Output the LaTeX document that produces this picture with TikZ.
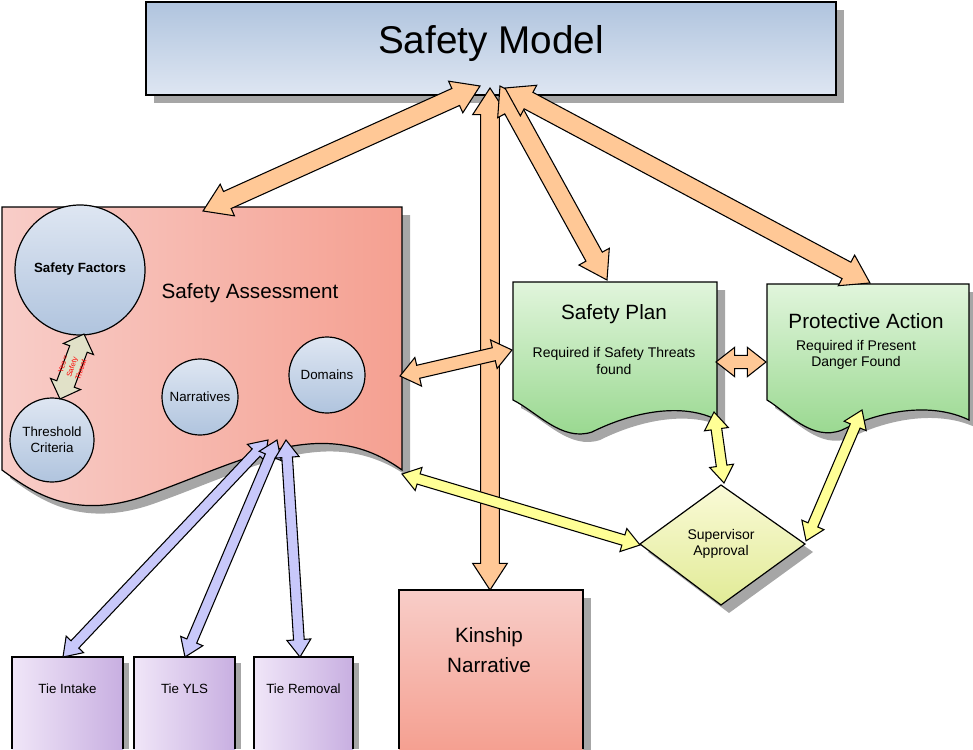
\documentclass[tikz,border=0pt]{standalone}
\usepackage{fontspec}
\setmainfont{Liberation Sans}
\usetikzlibrary{calc}
\definecolor{blueF}{RGB}{176,196,222}
\definecolor{blueL}{RGB}{222,230,242}
\definecolor{salm}{RGB}{245,160,145}
\definecolor{salmL}{RGB}{248,205,200}
\definecolor{grn}{RGB}{150,215,140}
\definecolor{grnL}{RGB}{225,245,220}
\definecolor{purp}{RGB}{200,175,225}
\definecolor{purpL}{RGB}{240,230,248}
\definecolor{orgA}{RGB}{255,200,150}
\definecolor{yelA}{RGB}{255,255,150}
\definecolor{lavA}{RGB}{200,200,250}
\definecolor{begA}{RGB}{225,225,200}
\definecolor{dia}{RGB}{225,235,150}
\definecolor{diaL}{RGB}{250,250,215}
\newcommand\barrow[6]{%
 \pgfpointdiff{\pgfpointanchor{#5}{center}}{\pgfpointanchor{#6}{center}}%
 \pgfgetlastxy{\dx}{\dy}%
 \pgfmathsetmacro\ang{atan2(\dy,\dx)}%
 \pgfmathsetmacro\len{veclen(\dx,\dy)}%
 \pgfmathsetmacro\lh{\len-#4}%
 \draw[fill=#1,line width=0.8pt,line join=miter,shift={(#5)},rotate=\ang]
 (0pt,0pt) -- (#4pt,#3pt) -- (#4pt,#2pt) -- (\lh pt,#2pt) -- (\lh pt,#3pt) -- (\len pt,0pt)
 -- (\lh pt,-#3pt) -- (\lh pt,-#2pt) -- (#4pt,-#2pt) -- (#4pt,-#3pt) -- cycle;}
\tikzset{shape line/.style={draw=black,line width=0.9pt},
 shadowed/.style={fill=black!35},
 lbl/.style={font=\fontsize{15.5}{18}\selectfont,align=center},
 small/.style={font=\fontsize{10.5}{12.5}\selectfont,align=center},
 circ/.style={shape line,top color=blueL,bottom color=blueF}}
\begin{document}
\begin{tikzpicture}[x=0.75pt,y=-0.75pt]
\useasboundingbox (0,0) rectangle (973,749);
% Safety Model
\fill[shadowed] (154,10) rectangle (844,103);
\draw[shape line,top color=blueF,bottom color=blueL] (146,2) rectangle (836,95);
\node[font=\fontsize{29}{34}\selectfont] (sm) at (491,44) {Safety Model};
% Safety Assessment
\fill[shadowed] (10,215) -- (410,215) -- (410,478) .. controls (330,420) and (250,470) .. (150,505) .. controls (80,528) and (40,500) .. (10,478) -- cycle;
\draw[shape line,left color=salmL,right color=salm] (2,207) -- (402,207) -- (402,470) .. controls (322,412) and (242,462) .. (142,497) .. controls (72,520) and (32,492) .. (2,470) -- cycle;
\node[lbl] (sa) at (250,293) {Safety Assessment};
\draw[circ] (80,270) circle (65);
\node[font=\bfseries\fontsize{10}{12}\selectfont] (sf) at (80,269) {Safety Factors};
\draw[circ] (52,440) circle (42);
\node[small,font=\fontsize{10}{12}\selectfont] (tc) at (52,440) {Threshold\\Criteria};
\draw[circ] (200,397) circle (38);
\node[font=\fontsize{10}{12}\selectfont] (na) at (200,397) {Narratives};
\draw[circ] (327,375) circle (38);
\node[font=\fontsize{10}{12}\selectfont] (do) at (327,375) {Domains};
% Safety Plan
\fill[shadowed] (521,290) -- (725,290) -- (725,428) .. controls (690,410) and (640,420) .. (600,440) .. controls (570,450) and (545,420) .. (521,408) -- cycle;
\draw[shape line,top color=grnL,bottom color=grn] (513,282) -- (717,282) -- (717,420) .. controls (682,402) and (632,412) .. (592,432) .. controls (562,442) and (537,412) .. (513,400) -- cycle;
\node[lbl] (sp) at (614,314) {Safety Plan};
\node[small] (spt) at (614,361) {Required if Safety Threats\\found};
% Protective Action
\fill[shadowed] (775,292) -- (977,292) -- (977,428) .. controls (940,410) and (890,418) .. (850,438) .. controls (820,450) and (795,420) .. (775,408) -- cycle;
\draw[shape line,top color=grnL,bottom color=grn] (767,284) -- (969,284) -- (969,420) .. controls (932,402) and (882,410) .. (842,430) .. controls (812,442) and (787,412) .. (767,400) -- cycle;
\node[lbl] (pa) at (866,321) {Protective Action};
\node[small] (pat) at (856,355) {Required if Present\\Danger Found};
% Kinship Narrative
\fill[shadowed] (407,598) rectangle (591,757);
\draw[shape line,top color=salmL,bottom color=salm] (399,749) -- (399,590) -- (583,590) -- (583,749);
\node[lbl,font=\fontsize{15.5}{22}\selectfont] (kn) at (489,650) {Kinship\\Narrative};
% Supervisor Approval
\fill[shadowed] (648,552) -- (729,493) -- (813,552) -- (729,613) -- cycle;
\draw[shape line,top color=diaL,bottom color=dia] (640,544) -- (721,485) -- (805,544) -- (721,605) -- cycle;
\node[small] (sv) at (721,544) {Supervisor\\Approval};
% Tie boxes
\foreach \a/\b/\t/\n in {12/123/Tie Intake/ti,134/235/Tie YLS/ty,254/353/Tie Removal/tr}{
 \fill[shadowed] (\a+6,663) rectangle (\b+6,749);
 \draw[shape line,left color=purpL,right color=purp] (\a,749) -- (\a,657) -- (\b,657) -- (\b,749);
 \node[small,font=\fontsize{10}{12}\selectfont] (\n) at ({(\a+\b)/2},689) {\t};}
% arrow endpoints
\coordinate (t1) at (480,86); \coordinate (t2) at (490,88); \coordinate (t3) at (500,86); \coordinate (t4) at (505,88);
\coordinate (saT) at (203,211); \coordinate (spT) at (607,280); \coordinate (paT) at (870,283); \coordinate (knT) at (490,590);
\coordinate (saR) at (400,376); \coordinate (spL) at (512,350);
\coordinate (spR) at (716,362); \coordinate (paL) at (766,362);
\coordinate (saB) at (402,474); \coordinate (dL) at (640,545);
\coordinate (spB) at (714,412); \coordinate (dT) at (724,483);
\coordinate (paB) at (862,410); \coordinate (dR) at (806,541);
\coordinate (lb1) at (268,440); \coordinate (lb2) at (277,440); \coordinate (lb3) at (286,440);
\coordinate (tiT) at (63,657); \coordinate (tyT) at (185,657); \coordinate (trT) at (300,657);
\coordinate (sfB) at (84,334); \coordinate (tcT) at (60,399);
% arrows
\barrow{orgA}{7}{13}{20}{t1}{saT}
\barrow{orgA}{7}{13}{20}{t2}{knT}
\barrow{orgA}{7}{13}{20}{t3}{spT}
\barrow{orgA}{7}{13}{20}{t4}{paT}
\barrow{orgA}{5}{11}{14}{saR}{spL}
\barrow{orgA}{5}{11}{14}{spR}{paL}
\barrow{yelA}{4}{9}{13}{saB}{dL}
\barrow{yelA}{4}{9}{13}{spB}{dT}
\barrow{yelA}{4}{9}{13}{paB}{dR}
\barrow{lavA}{4}{9}{13}{lb1}{tiT}
\barrow{lavA}{4}{9}{13}{lb2}{tyT}
\barrow{lavA}{4}{9}{13}{lb3}{trT}
\barrow{begA}{7}{12}{12}{sfB}{tcT}
\node[text=red,font=\fontsize{5.5}{7}\selectfont,align=center,rotate=72,inner sep=0] (yl) at (72,367) {Yes =\\Safety\\Threat};
\end{tikzpicture}
\end{document}
